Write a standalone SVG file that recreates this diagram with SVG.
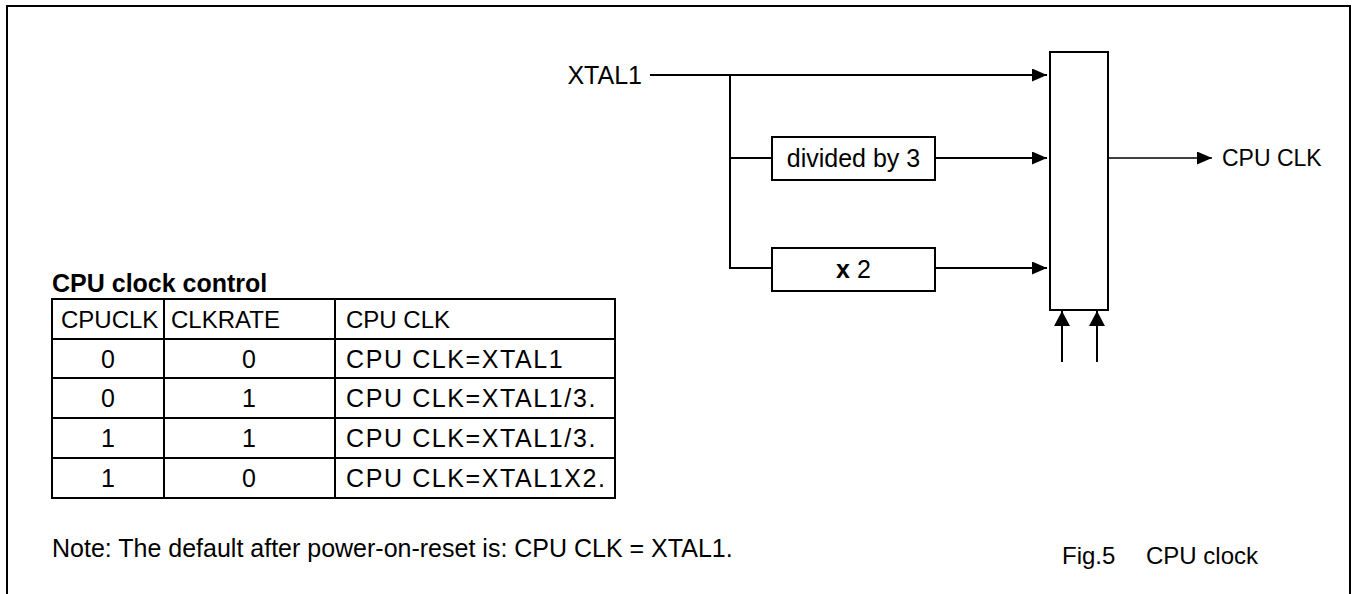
<svg xmlns="http://www.w3.org/2000/svg" width="1354" height="594" viewBox="0 0 1354 594">
<style>
text{font-family:"Liberation Sans",Arial,sans-serif;fill:#000}
.t{font-size:25px}
.h{font-size:24px}
.b{font-weight:bold}
.sp{letter-spacing:1.6px}
.ln{stroke:#000;stroke-width:2;fill:none}
.thin{stroke:#000;stroke-width:1.5;fill:none}
.box{fill:#fff;stroke:#000;stroke-width:2}
</style>
<defs>
<marker id="ah" viewBox="0 0 15 13" refX="15" refY="6.5" markerWidth="15" markerHeight="13" markerUnits="userSpaceOnUse" orient="auto">
<path d="M0,0 L15,6.5 L0,13 Z" fill="#000"/>
</marker>
<marker id="ahb" viewBox="0 0 15 16" refX="15" refY="8" markerWidth="15" markerHeight="16" markerUnits="userSpaceOnUse" orient="auto">
<path d="M0,0 L15,8 L0,16 Z" fill="#000"/>
</marker>
</defs>
<rect width="1354" height="594" fill="#fff"/>
<path class="ln" d="M7,600 V6 H1350 V600"/>
<g id="connectors">
<path class="ln" d="M650,75 H1047" marker-end="url(#ah)"/>
<path class="ln" d="M730,75 V268 H772"/>
<path class="ln" d="M730,158 H772"/>
<path class="ln" d="M935,158 H1047" marker-end="url(#ah)"/>
<path class="ln" d="M935,268 H1047" marker-end="url(#ah)"/>
<path class="thin" d="M1108,158 H1212" marker-end="url(#ah)"/>
<path class="ln" d="M1062,362 V311" marker-end="url(#ahb)"/>
<path class="ln" d="M1097,362 V311" marker-end="url(#ahb)"/>
</g>
<g id="xtal1"><text class="t" x="642" y="84" text-anchor="end">XTAL1</text></g>
<g id="div3"><rect class="box" x="772" y="137" width="163" height="43"/><text class="t" x="853.5" y="167" text-anchor="middle">divided by 3</text></g>
<g id="x2"><rect class="box" x="772" y="248" width="163" height="43"/><text class="t" x="853.5" y="278" text-anchor="middle"><tspan class="b">x</tspan> 2</text></g>
<g id="mux"><rect class="box" x="1050" y="52" width="58" height="258"/></g>
<g id="cpuclk"><text x="1222" y="166" font-size="23">CPU CLK</text></g>
<g id="table">
<text class="t b" x="52" y="292">CPU clock control</text>
<path class="ln" d="M52,299 H615 V498 H52 Z M52,339 H615 M52,378 H615 M52,418 H615 M52,458 H615 M164,299 V498 M335,299 V498"/>
<text class="h" x="61" y="328">CPUCLK</text>
<text class="h" x="171" y="328">CLKRATE</text>
<text class="h" x="346" y="328">CPU CLK</text>
<text class="t" x="108" y="368" text-anchor="middle">0</text>
<text class="t" x="249" y="368" text-anchor="middle">0</text>
<text class="t sp" x="346" y="368">CPU CLK=XTAL1</text>
<text class="t" x="108" y="407" text-anchor="middle">0</text>
<text class="t" x="249" y="407" text-anchor="middle">1</text>
<text class="t sp" x="346" y="407">CPU CLK=XTAL1/3.</text>
<text class="t" x="108" y="447" text-anchor="middle">1</text>
<text class="t" x="249" y="447" text-anchor="middle">1</text>
<text class="t sp" x="346" y="447">CPU CLK=XTAL1/3.</text>
<text class="t" x="108" y="487" text-anchor="middle">1</text>
<text class="t" x="249" y="487" text-anchor="middle">0</text>
<text class="t sp" x="346" y="487">CPU CLK=XTAL1X2.</text>
</g>
<g id="note"><text class="t" x="52" y="557">Note: The default after power-on-reset is: CPU CLK = XTAL1.</text></g>
<g id="caption"><text x="1062" y="564" font-size="24">Fig.5</text><text x="1146" y="564" font-size="24">CPU clock</text></g>
</svg>
